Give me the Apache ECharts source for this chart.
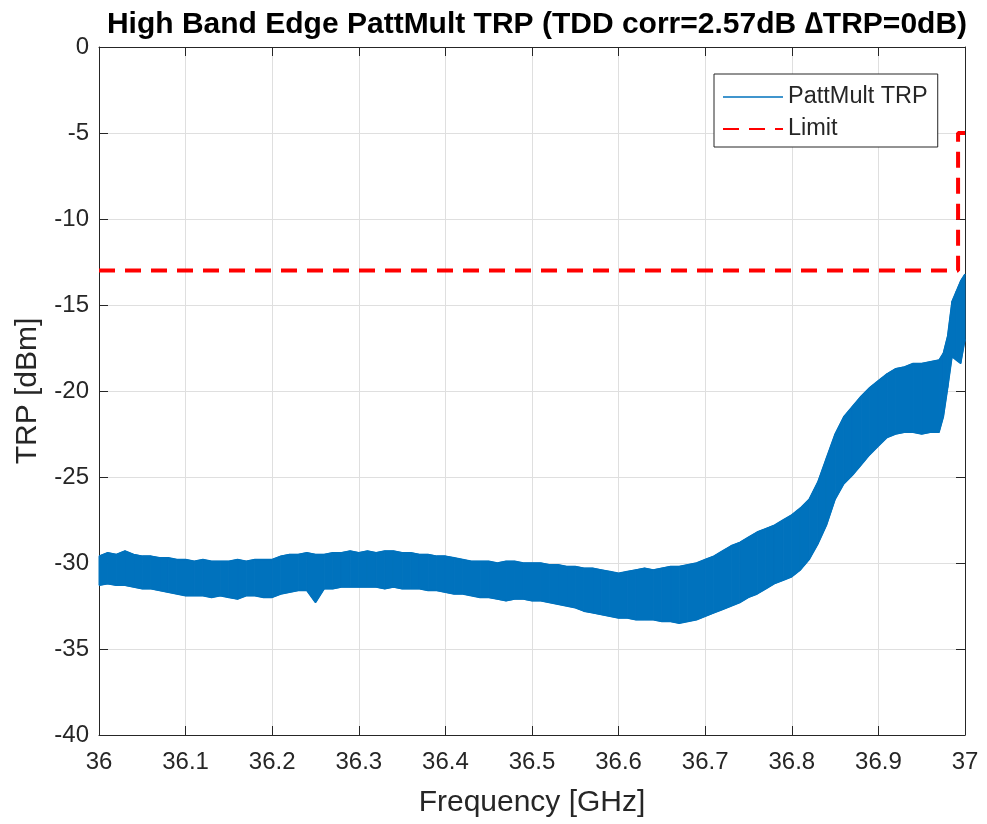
<!DOCTYPE html>
<html>
<head>
<meta charset="utf-8">
<script src="https://cdn.jsdelivr.net/npm/echarts@6/dist/echarts.min.js"></script>
<style>
html,body{margin:0;padding:0;background:#fff;}
#chart{width:987px;height:824px;}
</style>
</head>
<body>
<div id="chart"></div>
<script>
// Frequency samples [GHz]
const freq = [36.00,36.01,36.02,36.03,36.04,36.05,36.06,36.07,36.08,36.09,
36.10,36.11,36.12,36.13,36.14,36.15,36.16,36.17,36.18,36.19,
36.20,36.21,36.22,36.23,36.24,36.25,36.26,36.27,36.28,36.29,
36.30,36.31,36.32,36.33,36.34,36.35,36.36,36.37,36.38,36.39,
36.40,36.41,36.42,36.43,36.44,36.45,36.46,36.47,36.48,36.49,
36.50,36.51,36.52,36.53,36.54,36.55,36.56,36.57,36.58,36.59,
36.60,36.61,36.62,36.63,36.64,36.65,36.66,36.67,36.68,36.69,
36.70,36.71,36.72,36.73,36.74,36.75,36.76,36.77,36.78,36.79,
36.80,36.81,36.82,36.83,36.84,36.85,36.86,36.87,36.88,36.89,
36.90,36.91,36.92,36.93,36.94,36.95,36.96,36.97,36.975,36.98,
36.985,36.99,36.995,37.00];

// Upper envelope of the noisy PattMult TRP trace [dBm]
const trpUpper = [-29.6,-29.4,-29.5,-29.3,-29.5,-29.6,-29.6,-29.7,-29.7,-29.8,
-29.8,-29.9,-29.8,-29.9,-29.9,-29.9,-29.8,-29.9,-29.8,-29.8,
-29.8,-29.6,-29.5,-29.5,-29.4,-29.5,-29.5,-29.4,-29.4,-29.3,
-29.4,-29.3,-29.4,-29.3,-29.3,-29.4,-29.4,-29.5,-29.5,-29.6,
-29.6,-29.7,-29.8,-29.9,-29.9,-29.9,-30.0,-29.9,-29.9,-30.0,
-30.0,-30.0,-30.1,-30.1,-30.2,-30.2,-30.3,-30.3,-30.4,-30.5,
-30.6,-30.5,-30.4,-30.3,-30.4,-30.3,-30.2,-30.2,-30.1,-30.0,
-29.8,-29.6,-29.3,-29.0,-28.8,-28.5,-28.2,-28.0,-27.8,-27.5,
-27.2,-26.8,-26.3,-25.3,-23.9,-22.5,-21.5,-20.9,-20.3,-19.8,
-19.4,-19.0,-18.7,-18.6,-18.4,-18.4,-18.3,-18.2,-17.8,-16.8,
-14.8,-14.2,-13.6,-13.2];

// Lower envelope of the noisy PattMult TRP trace [dBm]
const trpLower = [-31.3,-31.2,-31.3,-31.3,-31.4,-31.5,-31.5,-31.6,-31.7,-31.8,
-31.9,-31.9,-31.9,-32.0,-31.9,-32.0,-32.1,-31.9,-31.9,-32.0,
-32.0,-31.8,-31.7,-31.6,-31.6,-32.3,-31.5,-31.5,-31.4,-31.4,
-31.4,-31.4,-31.4,-31.5,-31.4,-31.5,-31.5,-31.5,-31.6,-31.6,
-31.7,-31.8,-31.8,-31.9,-32.0,-32.0,-32.1,-32.2,-32.1,-32.1,
-32.2,-32.2,-32.3,-32.4,-32.5,-32.6,-32.8,-32.9,-33.0,-33.1,
-33.2,-33.2,-33.3,-33.3,-33.3,-33.4,-33.4,-33.5,-33.4,-33.3,
-33.1,-32.9,-32.7,-32.5,-32.3,-32.0,-31.8,-31.5,-31.2,-31.0,
-30.8,-30.4,-29.8,-28.9,-27.8,-26.3,-25.4,-24.9,-24.3,-23.7,
-23.2,-22.7,-22.5,-22.4,-22.4,-22.5,-22.4,-22.4,-21.5,-19.8,
-18.0,-18.2,-18.4,-17.0];

// Limit mask
const limitFreq = [36.0, 36.992, 36.992, 37.0];
const limitVal = [-13, -13, -5, -5];

const titleText = 'High Band Edge PattMult TRP (TDD corr=2.57dB \u2206TRP=0dB)';
const FONT = "'Liberation Sans', Arial, Helvetica, sans-serif";
const BLUE = '#0072BD';
const AX = '#262626';

const upperData = freq.map((f, i) => [f, trpUpper[i]]);
const lowerData = freq.map((f, i) => [f, trpLower[i]]);
const bandSegments = [];
for (let i = 0; i < freq.length - 1; i++) {
  bandSegments.push([freq[i], trpUpper[i], trpLower[i], freq[i + 1], trpUpper[i + 1], trpLower[i + 1]]);
}
const limitData = limitFreq.map((f, i) => [f, limitVal[i]]);

function renderBand(params, api) {
  const p0 = api.coord([api.value(0), api.value(1)]);
  const p1 = api.coord([api.value(3), api.value(4)]);
  const p2 = api.coord([api.value(3), api.value(5)]);
  const p3 = api.coord([api.value(0), api.value(2)]);
  return {
    type: 'polygon',
    shape: {points: [p0, p1, p2, p3]},
    style: {fill: BLUE, stroke: BLUE, lineWidth: 1}
  };
}

const chart = echarts.init(document.getElementById('chart'), null, {renderer: 'canvas'});
const xLabel = v => String(Math.round(v * 10) / 10);
const hideSym = {color: 'rgba(0,0,0,0)', borderWidth: 0, opacity: 0};
chart.setOption({
  animation: false,
  backgroundColor: '#fff',
  title: {
    text: titleText,
    left: 532, top: 5, textAlign: 'center',
    textStyle: {fontFamily: FONT, fontWeight: 'bold', fontSize: 30, color: '#000'}
  },
  grid: {left: 99, right: 22, top: 47, bottom: 89, containLabel: false},
  legend: {
    orient: 'vertical', left: 714, top: 74,
    padding: [11, 10, 6, 8], itemGap: 8, itemWidth: 60, itemHeight: 22,
    backgroundColor: '#fff', borderColor: AX, borderWidth: 1,
    textStyle: {fontFamily: FONT, fontSize: 23.5, color: AX},
    data: [
      {name: 'PattMult TRP', itemStyle: hideSym, lineStyle: {color: BLUE, width: 1.5, opacity: 1}},
      {name: 'Limit', itemStyle: hideSym}
    ]
  },
  xAxis: [{
    type: 'value', min: 36, max: 37, interval: 0.1,
    name: 'Frequency [GHz]', nameLocation: 'middle', nameGap: 53,
    nameTextStyle: {fontFamily: FONT, fontSize: 30, color: AX},
    axisLine: {show: true, onZero: false, lineStyle: {color: AX, width: 1}},
    axisTick: {show: true, inside: true, length: 9, lineStyle: {color: AX}},
    axisLabel: {fontFamily: FONT, fontSize: 24, color: AX, margin: 15, formatter: xLabel},
    splitLine: {show: true, lineStyle: {color: '#dfdfdf', width: 1}}
  }, {
    type: 'value', min: 36, max: 37, interval: 0.1, position: 'top',
    axisLine: {show: true, onZero: false, lineStyle: {color: AX, width: 1}},
    axisTick: {show: true, inside: true, length: 9, lineStyle: {color: AX}},
    axisLabel: {show: false}, splitLine: {show: false}
  }],
  yAxis: [{
    type: 'value', min: -40, max: 0, interval: 5,
    name: 'TRP [dBm]', nameLocation: 'middle', nameGap: 56, nameRotate: 90,
    nameTextStyle: {fontFamily: FONT, fontSize: 30, color: AX},
    axisLine: {show: true, onZero: false, lineStyle: {color: AX, width: 1}},
    axisTick: {show: true, inside: true, length: 9, lineStyle: {color: AX}},
    axisLabel: {fontFamily: FONT, fontSize: 24, color: AX, margin: 10},
    splitLine: {show: true, lineStyle: {color: '#dfdfdf', width: 1}}
  }, {
    type: 'value', min: -40, max: 0, interval: 5, position: 'right',
    axisLine: {show: true, onZero: false, lineStyle: {color: AX, width: 1}},
    axisTick: {show: true, inside: true, length: 9, lineStyle: {color: AX}},
    axisLabel: {show: false}, splitLine: {show: false}
  }],
  series: [{
    name: 'PattMult TRP band', type: 'custom', renderItem: renderBand,
    data: bandSegments, encode: {x: [0, 3], y: [1, 2, 4, 5]}, z: 2, silent: true
  }, {
    name: 'PattMult TRP', type: 'line', data: upperData,
    showSymbol: false, symbol: 'none',
    lineStyle: {color: BLUE, width: 1.5}, itemStyle: {color: BLUE}, z: 2
  }, {
    name: 'PattMult TRP lower', type: 'line', data: lowerData,
    showSymbol: false, symbol: 'none',
    lineStyle: {color: BLUE, width: 1.5}, itemStyle: {color: BLUE}, z: 2
  }, {
    name: 'Limit', type: 'line', data: limitData,
    showSymbol: false, symbol: 'none',
    lineStyle: {color: '#ff0000', width: 4, type: [16, 10]},
    itemStyle: {color: '#ff0000'}, z: 3
  }]
});
</script>
</body>
</html>
